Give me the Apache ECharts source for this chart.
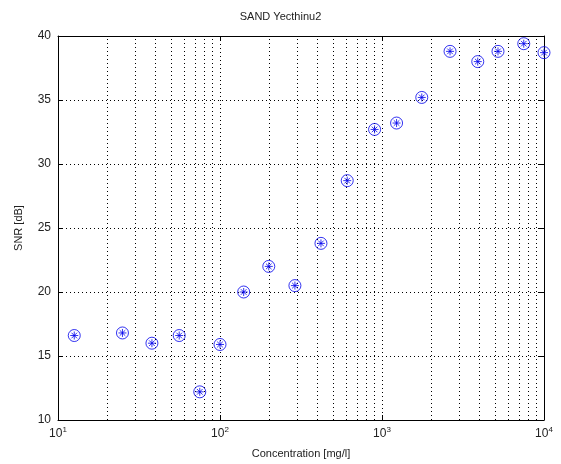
<!DOCTYPE html>
<html>
<head>
<meta charset="utf-8">
<script src="https://cdn.jsdelivr.net/npm/echarts@6/dist/echarts.min.js"></script>
<style>
html,body{margin:0;padding:0;background:#fff;}
#c{width:561px;height:464px;}
</style>
</head>
<body>
<div id="c"></div>
<script>
// Data
const concentration = [12.6, 25, 38, 56, 75, 100, 140, 200, 290, 420, 610, 900, 1230, 1760, 2630, 3900, 5200, 7500, 10000];
const snr = [16.6, 16.8, 16.0, 16.6, 12.2, 15.9, 20.0, 22.0, 20.5, 23.8, 28.7, 32.7, 33.2, 35.2, 38.8, 38.0, 38.8, 39.4, 38.7];
const minorGridX = [20,30,40,50,60,70,80,90,200,300,400,500,600,700,800,900,2000,3000,4000,5000,6000,7000,8000,9000];
const yTicks = [10, 15, 20, 25, 30, 35, 40];

const points = concentration.map((c, i) => [c, snr[i]]);
const font = 'Liberation Sans, Arial, sans-serif';
const blue = '#0000ee';
const dotted = { type: [1, 3], color: '#000', width: 1 };

const chart = echarts.init(document.getElementById('c'), null, { renderer: 'canvas' });
chart.setOption({
  animation: false,
  backgroundColor: '#fff',
  title: {
    text: 'SAND Yecthinu2',
    left: 'center',
    top: 6,
    textStyle: { fontFamily: font, fontSize: 11, fontWeight: 'normal', color: '#222' }
  },
  grid: { left: 58, right: 17, top: 36, bottom: 44 },
  xAxis: [{
    type: 'log', logBase: 10, min: 10, max: 10000,
    name: 'Concentration [mg/l]', nameLocation: 'middle', nameGap: 28,
    nameTextStyle: { fontFamily: font, fontSize: 11, color: '#222' },
    axisLine: { show: true, lineStyle: { color: '#000', width: 1 } },
    axisTick: { show: true, inside: true, length: 5, lineStyle: { color: '#000' } },
    axisLabel: {
      margin: 6,
      formatter: v => '10{sup|' + Math.round(Math.log10(v)) + '}',
      rich: { sup: { fontSize: 8, verticalAlign: 'top', padding: [0, 0, 8, 0], fontFamily: font, color: '#222' } },
      fontFamily: font, fontSize: 12, color: '#222'
    },
    splitLine: { show: true, lineStyle: dotted }
  }, {
    type: 'log', logBase: 10, min: 10, max: 10000, position: 'top',
    axisLine: { show: true, lineStyle: { color: '#000', width: 1 } },
    axisTick: { show: true, inside: true, length: 5, lineStyle: { color: '#000' } },
    axisLabel: { show: false },
    splitLine: { show: false }
  }],
  yAxis: [{
    type: 'value', min: 10, max: 40, interval: 5,
    name: 'SNR [dB]', nameLocation: 'middle', nameGap: 34,
    nameTextStyle: { fontFamily: font, fontSize: 11, color: '#222' },
    axisLine: { show: true, lineStyle: { color: '#000', width: 1 } },
    axisTick: { show: true, inside: true, length: 5, lineStyle: { color: '#000' } },
    axisLabel: { margin: 7, fontFamily: font, fontSize: 12, color: '#222',
      formatter: v => yTicks.includes(v) ? String(v) : '' },
    splitLine: { show: true, lineStyle: dotted }
  }, {
    type: 'value', min: 10, max: 40, interval: 5, position: 'right',
    axisLine: { show: true, lineStyle: { color: '#000', width: 1 } },
    axisTick: { show: true, inside: true, length: 5, lineStyle: { color: '#000' } },
    axisLabel: { show: false },
    splitLine: { show: false }
  }],
  series: [{
    type: 'scatter',
    data: points,
    symbol: 'circle',
    symbolSize: 12,
    itemStyle: { color: 'rgba(255,255,255,0)', borderColor: blue, borderWidth: 1 },
    z: 5,
    markLine: {
      silent: true, symbol: 'none', animation: false,
      label: { show: false },
      lineStyle: dotted,
      data: minorGridX.map(v => ({ xAxis: v }))
    }
  }, {
    type: 'scatter',
    data: points,
    symbol: 'path://M5,0L5,10M0,5L10,5M1.5,1.5L8.5,8.5M1.5,8.5L8.5,1.5',
    symbolSize: 8,
    itemStyle: { color: 'none', borderColor: blue, borderWidth: 1 },
    z: 6
  }]
});
</script>
</body>
</html>
